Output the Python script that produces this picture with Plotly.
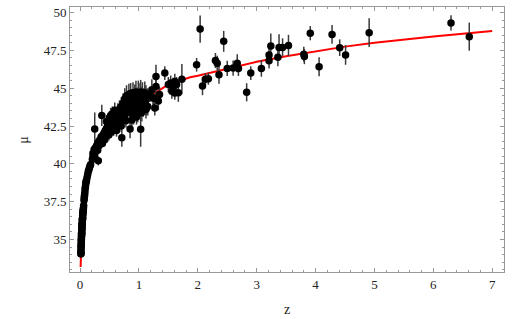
import plotly.graph_objects as go

# ---- model curve ----
curve_z = [0.01, 0.015, 0.02, 0.03, 0.04, 0.05, 0.07, 0.1, 0.15, 0.2, 0.3, 0.4, 0.5, 0.6, 0.8,
           1.0, 1.2, 1.5, 1.87, 2.0, 2.5, 3.0, 3.5, 4.0, 4.5, 5.0, 5.5, 6.0, 6.5, 7.0]
curve_mu = [33.18, 34.06, 34.70, 35.59, 36.23, 36.74, 37.50, 38.31, 39.25, 39.94, 40.93, 41.63, 42.18, 42.62, 43.33,
            43.9, 44.5, 45.25, 45.72, 45.82, 46.3, 46.75, 47.12, 47.45, 47.75, 48.0, 48.22, 48.42, 48.6, 48.78]

# ---- low-redshift supernovae ----
low_z = [0.015, 0.016, 0.017, 0.018, 0.019, 0.020, 0.021, 0.022, 0.023, 0.024, 0.025, 0.026, 0.027, 0.028,
         0.030, 0.031, 0.032, 0.033, 0.035, 0.036, 0.038, 0.040, 0.042, 0.044, 0.046, 0.048, 0.050, 0.053,
         0.056, 0.059, 0.062, 0.017, 0.021, 0.025, 0.029, 0.034, 0.039, 0.045, 0.052,
         0.068, 0.072, 0.075, 0.078, 0.082, 0.086, 0.090, 0.095, 0.100, 0.105, 0.110, 0.120, 0.130, 0.140,
         0.150, 0.160, 0.170, 0.180, 0.21, 0.22, 0.23, 0.24, 0.25, 0.26, 0.31]
low_mu = [34.05, 34.2, 34.3, 34.45, 34.55, 34.7, 34.8, 34.95, 35.0, 35.1, 35.2, 35.25, 35.35, 35.45,
          35.6, 35.65, 35.75, 35.8, 35.95, 36.0, 36.1, 36.25, 36.35, 36.45, 36.6, 36.7, 36.75, 36.9,
          37.0, 37.1, 37.25, 34.05, 34.6, 35.4, 35.4, 36.0, 36.3, 36.4, 36.85,
          37.6, 37.75, 37.85, 37.95, 38.1, 38.3, 38.45, 38.6, 38.75, 38.85, 38.9, 39.1, 39.3, 39.5,
          39.6, 39.75, 39.85, 39.95, 40.3, 40.45, 40.6, 40.7, 40.85, 40.9, 40.2]
low_err = [0.15] * 39 + [0.15] * 18 + [0.2] * 6 + [0.3]

# ---- intermediate-redshift supernovae (dense band) ----
mid_z = [0.22, 0.24, 0.25, 0.26, 0.27, 0.28, 0.29, 0.30, 0.30, 0.31, 0.32, 0.33, 0.34, 0.35, 0.36, 0.37,
         0.38, 0.39, 0.40, 0.41, 0.42, 0.43, 0.44, 0.45, 0.46, 0.47, 0.48, 0.49, 0.50, 0.51, 0.52, 0.53,
         0.54, 0.55, 0.56, 0.57, 0.58, 0.59, 0.60, 0.61, 0.62, 0.63, 0.64, 0.65, 0.66, 0.67, 0.68, 0.69,
         0.70, 0.71, 0.72, 0.73, 0.74, 0.75, 0.76, 0.77, 0.78, 0.79, 0.80, 0.81, 0.82, 0.83, 0.84, 0.85,
         0.86, 0.87, 0.88, 0.89, 0.90, 0.91, 0.92, 0.93, 0.94, 0.95, 0.96, 0.97, 0.98, 0.99, 1.00, 1.01,
         1.02, 1.03, 1.04, 1.05, 1.06, 1.07, 1.08, 1.10, 1.11, 1.12, 1.14, 1.15,
         0.62, 0.70, 0.78, 0.88, 0.96, 1.05, 1.12, 0.45, 0.50, 0.55, 0.59, 0.52,
         0.33, 0.38, 0.43, 0.48, 0.53, 0.58, 0.63, 0.68, 0.73, 0.78, 0.83, 0.88, 0.93, 0.98, 1.03, 1.08,
         0.36, 0.41, 0.46, 0.51, 0.56, 0.61, 0.66, 0.71, 0.76, 0.81, 0.86, 0.91, 0.96, 1.01, 1.06, 1.10,
         0.25, 0.37, 0.71, 0.85, 1.03, 1.13]
mid_mu = [40.7, 40.95, 40.6, 41.05, 40.85, 41.2, 41.0, 41.35, 40.9, 41.15, 41.5, 41.25, 41.6, 41.4, 41.8, 41.55,
          41.35, 41.9, 41.7, 42.05, 41.6, 42.2, 41.85, 42.35, 42.0, 42.5, 42.15, 41.9, 42.6, 42.3, 42.75, 42.1,
          42.45, 42.9, 42.6, 42.25, 43.05, 42.8, 42.4, 43.3, 42.95, 42.6, 43.45, 43.1, 42.75, 43.6, 43.25, 42.9,
          43.8, 43.4, 43.05, 44.0, 43.6, 43.2, 44.3, 43.75, 43.35, 44.5, 43.9, 43.5, 44.2, 44.6, 43.65, 44.0,
          44.65, 43.4, 44.3, 43.8, 44.7, 43.1, 44.1, 44.55, 43.6, 44.75, 44.0, 44.35, 43.3, 44.7, 44.2, 43.8,
          44.6, 44.75, 43.95, 44.4, 44.7, 43.7, 44.25, 44.7, 44.0, 44.5, 44.3, 43.8,
          42.2, 42.5, 42.85, 42.9, 43.1, 43.4, 43.6, 42.8, 43.05, 43.3, 43.55, 43.2,
          41.3, 41.65, 41.95, 42.25, 42.5, 42.7, 42.95, 43.15, 43.35, 43.55, 43.8, 44.0, 44.15, 44.3, 44.45, 44.55,
          41.5, 41.8, 42.1, 42.4, 42.65, 42.85, 43.05, 43.25, 43.45, 43.65, 43.9, 44.1, 44.25, 44.4, 44.5, 44.6,
          42.3, 43.2, 41.73, 42.3, 42.28, 43.7]
mid_err = [0.2, 0.2, 0.2, 0.2, 0.25, 0.25, 0.2, 0.25, 0.25, 0.25, 0.3, 0.25, 0.25, 0.3, 0.3, 0.3,
           0.25, 0.3, 0.3, 0.3, 0.3, 0.35, 0.3, 0.3, 0.3, 0.4, 0.3, 0.35, 0.35, 0.3, 0.4, 0.35,
           0.3, 0.45, 0.35, 0.4, 0.5, 0.35, 0.4, 0.5, 0.4, 0.45, 0.55, 0.4, 0.45, 0.6, 0.45, 0.4,
           0.6, 0.5, 0.45, 0.65, 0.5, 0.45, 0.7, 0.5, 0.5, 0.7, 0.55, 0.5, 0.6, 0.7, 0.55, 0.6,
           0.7, 0.5, 0.65, 0.6, 0.7, 0.5, 0.6, 0.7, 0.6, 0.75, 0.6, 0.7, 0.55, 0.8, 0.65, 0.6,
           0.75, 0.8, 0.65, 0.7, 0.7, 0.6, 0.7, 0.75, 0.65, 0.7, 0.7, 0.6,
           0.4, 0.4, 0.45, 0.5, 0.5, 0.6, 0.6, 0.4, 0.45, 0.5, 0.5, 0.5,
           0.2, 0.2, 0.25, 0.25, 0.3, 0.3, 0.3, 0.35, 0.35, 0.35, 0.4, 0.4, 0.4, 0.45, 0.45, 0.45,
           0.2, 0.2, 0.25, 0.25, 0.3, 0.3, 0.3, 0.35, 0.35, 0.35, 0.4, 0.4, 0.4, 0.45, 0.45, 0.45,
           1.1, 0.7, 0.6, 0.6, 1.15, 0.5]

# ---- high-redshift gamma-ray bursts ----
grb_z = [1.19, 1.22, 1.24, 1.25, 1.27, 1.29, 1.29, 1.33, 1.35, 1.44, 1.50, 1.54, 1.56, 1.58, 1.61, 1.61,
         1.64, 1.67, 1.73, 1.98, 2.04, 2.08, 2.13, 2.18, 2.30, 2.33, 2.36, 2.44, 2.50, 2.60, 2.67, 2.69,
         2.83, 2.90, 3.08, 3.21, 3.21, 3.24, 3.36, 3.38, 3.44, 3.54, 3.80, 3.81, 3.91, 4.06, 4.28, 4.41,
         4.51, 4.91, 6.30, 6.61]
grb_mu = [44.6, 44.9, 44.36, 44.35, 43.7, 45.78, 45.12, 44.15, 44.58, 46.0, 45.24, 45.34, 44.8, 45.1, 45.45, 44.69,
          45.24, 44.7, 45.6, 46.55, 48.91, 45.14, 45.6, 45.63, 46.83, 46.65, 45.89, 48.1, 46.31, 46.33, 46.65, 46.31,
          44.73, 46.0, 46.31, 46.81, 47.2, 47.79, 47.05, 47.7, 47.7, 47.83, 47.25, 47.09, 48.64, 46.42, 48.56, 47.68,
          47.2, 48.67, 49.32, 48.41]
grb_err = [0.5, 0.7, 0.5, 0.5, 0.5, 0.77, 0.6, 0.6, 0.5, 0.45, 0.5, 0.5, 0.5, 0.6, 0.5, 0.45,
           0.5, 0.6, 1.0, 0.45, 0.9, 0.6, 0.4, 0.4, 0.5, 0.5, 0.6, 0.69, 0.5, 0.5, 0.6, 0.5,
           0.6, 0.45, 0.55, 0.5, 0.5, 0.82, 0.6, 0.87, 0.6, 0.7, 0.5, 0.5, 0.47, 0.63, 0.62, 0.55,
           0.65, 0.95, 0.5, 0.93]

x_ticks = [0, 1, 2, 3, 4, 5, 6, 7]
y_ticks = [35, 37.5, 40, 42.5, 45, 47.5, 50]
y_tick_text = ["35", "37.5", "40", "42.5", "45", "47.5", "50"]

SERIF = "Liberation Serif, Times New Roman, serif"

fig = go.Figure()

fig.add_trace(go.Scatter(x=curve_z, y=curve_mu, mode="lines", line=dict(color="#ff0000", width=2),
                         hoverinfo="skip", showlegend=False))

for zs, mus, errs in [(low_z, low_mu, low_err), (mid_z, mid_mu, mid_err), (grb_z, grb_mu, grb_err)]:
    fig.add_trace(go.Scatter(
        x=zs, y=mus, mode="markers",
        marker=dict(color="black", size=7.5, line=dict(width=0)),
        error_y=dict(type="data", array=errs, visible=True, color="#3a3a3a", thickness=1.5, width=0),
        showlegend=False))

axis_common = dict(
    showgrid=False, zeroline=False, showline=True, linecolor="#999999", linewidth=1,
    mirror="ticks", ticks="inside", ticklen=4, tickwidth=1, tickcolor="#999999",
    tickfont=dict(family=SERIF, size=13, color="#222222"),
)

fig.update_xaxes(
    range=[-0.17, 7.2], tickvals=x_ticks,
    minor=dict(dtick=0.2, ticks="inside", ticklen=2, tickcolor="#999999", tick0=0),
    **axis_common)
fig.update_yaxes(
    range=[32.85, 50.37], tickvals=y_ticks, ticktext=y_tick_text,
    minor=dict(dtick=0.5, ticks="inside", ticklen=2, tickcolor="#999999", tick0=0),
    **axis_common)

fig.add_annotation(text="z", xref="paper", yref="paper", x=0.5, y=-0.142, xanchor="center", yanchor="middle",
                   showarrow=False, font=dict(family=SERIF, size=14, color="#222222"))
fig.add_annotation(text="μ", xref="paper", yref="paper", x=-0.108, y=0.5, xanchor="center", yanchor="middle",
                   textangle=-90, showarrow=False, font=dict(family=SERIF, size=14, color="#222222"))

fig.update_layout(
    template="simple_white",
    width=516, height=319,
    margin=dict(l=70, r=12, t=5, b=47),
    paper_bgcolor="white", plot_bgcolor="white",
    font=dict(family=SERIF, size=13, color="#222222"),
)

fig.write_html("out.html", config={"displayModeBar": False})

# remove the default page margin so the figure sits at the window's top-left corner
with open("out.html", "r", encoding="utf-8") as f:
    html = f.read()
html = html.replace("<head>", "<head><style>html,body{margin:0;padding:0;overflow:hidden;}</style>", 1)
with open("out.html", "w", encoding="utf-8") as f:
    f.write(html)
